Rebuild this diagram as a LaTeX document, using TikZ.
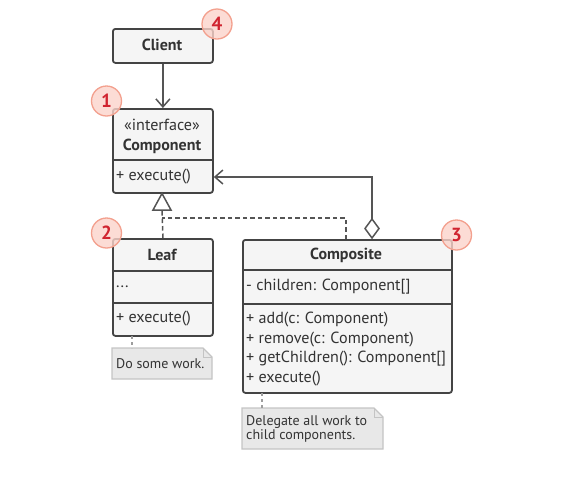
\documentclass[tikz,border=0pt]{standalone}
\usepackage{fontspec}
\setmainfont{PT Sans}
\usetikzlibrary{arrows.meta,calc}
\definecolor{boxfill}{HTML}{F5F5F5}
\definecolor{boxline}{HTML}{444444}
\definecolor{txt}{HTML}{333333}
\definecolor{conn}{HTML}{555555}
\definecolor{notefill}{HTML}{E8E8E8}
\definecolor{noteline}{HTML}{C4C4C4}
\definecolor{badgefill}{HTML}{FBD3CA}
\definecolor{badgeline}{HTML}{F3A08E}
\definecolor{badgetxt}{HTML}{D02430}
\tikzset{
  umlbox/.style={draw=boxline, fill=boxfill, line width=1.8pt, rounded corners=2.5pt, anchor=north west, inner sep=0pt},
  divider/.style={draw=boxline, line width=1.6pt},
  title/.style={font=\fontsize{16}{18}\selectfont\bfseries, text=txt, inner sep=0pt},
  member/.style={font=\fontsize{16.1}{18}\selectfont, text=txt, anchor=west, inner sep=0pt},
  conline/.style={draw=conn, line width=1.5pt},
  dashline/.style={draw=conn, line width=1.5pt, dash pattern=on 4.5pt off 3pt},
  notedash/.style={draw=noteline!80!black, line width=1.3pt, dash pattern=on 3pt off 3pt},
  notetext/.style={font=\fontsize{14}{15}\selectfont, text=txt, anchor=west, inner sep=0pt, align=left},
  badge/.style={circle, draw=badgeline, line width=1.3pt, fill=badgefill, fill opacity=0.8, text opacity=1, minimum size=30pt, inner sep=0pt, font=\fontsize{19}{19}\selectfont\bfseries, text=badgetxt},
  notebox/.style={draw=noteline, fill=notefill, line width=1.2pt}
}
\begin{document}
\begin{tikzpicture}[x=1pt,y=-1pt]
\useasboundingbox (0,0) rectangle (567,491);
% Client
\node[umlbox, minimum width=100pt, minimum height=34pt] (client) at (112,28) {};
\node[title] (clientt) at (162,45) {Client};
% Component
\node[umlbox, minimum width=100pt, minimum height=84pt] (comp) at (112,108) {};
\draw[divider] (comp.west |- 0,160) -- (comp.east |- 0,160);
\node[member, anchor=center] (compst) at (162,125) {«interface»};
\node[title] (compt) at (162,146) {Component};
\node[member] (compm) at (116,177) {+ execute()};
% Leaf
\node[umlbox, minimum width=100pt, minimum height=97pt] (leaf) at (112,238) {};
\draw[divider] (leaf.west |- 0,271) -- (leaf.east |- 0,271);
\draw[divider] (leaf.west |- 0,303) -- (leaf.east |- 0,303);
\node[title] (leaft) at (162,255) {Leaf};
\node[member] (leafa) at (116,287) {...};
\node[member] (leafm) at (116,319) {+ execute()};
% Composite
\node[umlbox, minimum width=209pt, minimum height=153pt] (compo) at (242,239) {};
\draw[divider] (compo.west |- 0,270) -- (compo.east |- 0,270);
\draw[divider] (compo.west |- 0,304) -- (compo.east |- 0,304);
\node[title] (compot) at (346,255) {Composite};
\node[member] (compoa) at (246,287) {- children: Component[]};
\node[member] (compom1) at (246,320) {+ add(c: Component)};
\node[member] (compom2) at (246,339.5) {+ remove(c: Component)};
\node[member] (compom3) at (246,359) {+ getChildren(): Component[]};
\node[member] (compom4) at (246,378.5) {+ execute()};
% Notes
\coordinate (n1) at (112,348);
\draw[notebox] (n1) -- ++(91,0) -- ++(9,9) -- ++(0,22) -- ++(-100,0) -- cycle;
\draw[noteline, line width=1pt] ($(n1)+(91,0)$) -- ++(0,9) -- ++(9,0);
\node[notetext] (note1) at (116,364) {Do some work.};
\coordinate (n2) at (242,408);
\draw[notebox] (n2) -- ++(132,0) -- ++(9,9) -- ++(0,32) -- ++(-141,0) -- cycle;
\draw[noteline, line width=1pt] ($(n2)+(132,0)$) -- ++(0,9) -- ++(9,0);
\node[notetext] (note2a) at (246,422) {Delegate all work to};
\node[notetext] (note2b) at (246,436) {child components.};
\draw[notedash] (132,336) -- (132,348);
\draw[notedash] (262,393) -- (262,408);
% Connectors
\draw[conline, -{Straight Barb[length=8pt,width=14pt,line width=1.5pt]}] (client.south) -- (comp.north);
\draw[dashline] (leaf.north) -- (162,210);
\draw[conn, line width=1.5pt, fill=white] (162,193.5) -- (171,210) -- (153,210) -- cycle;
\draw[dashline] (compo.north -| 346,0) -- (346,218) -- (162,218);
\draw[conline, -{Straight Barb[length=8pt,width=14pt,line width=1.5pt]}] (372,220) -- (372,177) -- (comp.east |- 0,177);
\draw[conn, line width=1.5pt, fill=white] (372,219) -- (379,228.5) -- (372,238) -- (365,228.5) -- cycle;
% Badges
\node[badge] (b1) at (106.5,101) {1};
\node[badge] (b2) at (106.5,233) {2};
\node[badge] (b3) at (456.5,235) {3};
\node[badge] (b4) at (217,24) {4};
\end{tikzpicture}
\end{document}
